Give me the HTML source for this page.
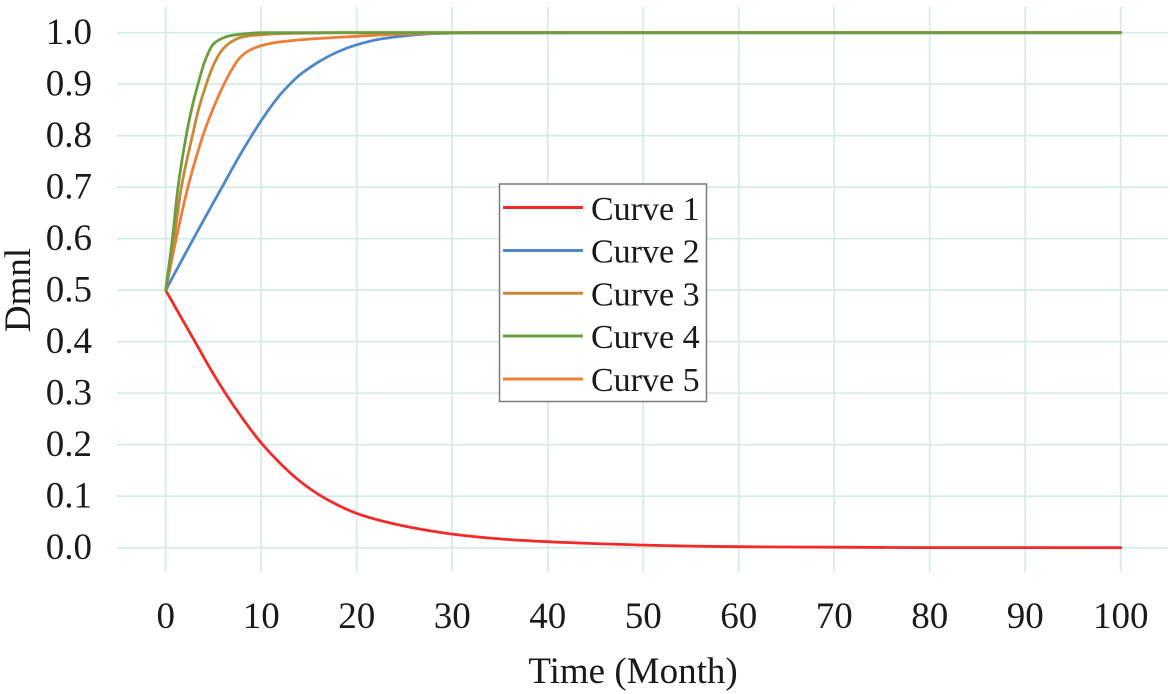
<!DOCTYPE html>
<html>
<head>
<meta charset="utf-8">
<style>
html,body{margin:0;padding:0;background:#fff;}
svg{display:block;}
text{font-family:"Liberation Serif",serif;fill:#1a1a1a;}
</style>
</head>
<body>
<svg id="chart" width="1170" height="694" viewBox="0 0 1170 694" xmlns="http://www.w3.org/2000/svg">
<rect width="1170" height="694" fill="#fff"/>
<!-- grid -->
<g stroke="#d3ebe5" stroke-width="1.6" fill="none">
<line x1="117" y1="32.7" x2="1168" y2="32.7"/>
<line x1="117" y1="84.2" x2="1168" y2="84.2"/>
<line x1="117" y1="135.7" x2="1168" y2="135.7"/>
<line x1="117" y1="187.2" x2="1168" y2="187.2"/>
<line x1="117" y1="238.7" x2="1168" y2="238.7"/>
<line x1="117" y1="290.2" x2="1168" y2="290.2"/>
<line x1="117" y1="341.7" x2="1168" y2="341.7"/>
<line x1="117" y1="393.2" x2="1168" y2="393.2"/>
<line x1="117" y1="444.7" x2="1168" y2="444.7"/>
<line x1="117" y1="496.2" x2="1168" y2="496.2"/>
<line x1="117" y1="547.7" x2="1168" y2="547.7"/>
<line x1="165.7" y1="7" x2="165.7" y2="572"/>
<line x1="261.2" y1="7" x2="261.2" y2="572"/>
<line x1="356.7" y1="7" x2="356.7" y2="572"/>
<line x1="452.2" y1="7" x2="452.2" y2="572"/>
<line x1="547.7" y1="7" x2="547.7" y2="572"/>
<line x1="643.2" y1="7" x2="643.2" y2="572"/>
<line x1="738.7" y1="7" x2="738.7" y2="572"/>
<line x1="834.2" y1="7" x2="834.2" y2="572"/>
<line x1="929.7" y1="7" x2="929.7" y2="572"/>
<line x1="1025.2" y1="7" x2="1025.2" y2="572"/>
<line x1="1120.7" y1="7" x2="1120.7" y2="572"/>
</g>
<!-- y tick labels -->
<g font-size="37" text-anchor="end">
<text x="92" y="44.2">1.0</text>
<text x="92" y="95.7">0.9</text>
<text x="92" y="147.2">0.8</text>
<text x="92" y="198.7">0.7</text>
<text x="92" y="250.2">0.6</text>
<text x="92" y="301.7">0.5</text>
<text x="92" y="353.2">0.4</text>
<text x="92" y="404.7">0.3</text>
<text x="92" y="456.2">0.2</text>
<text x="92" y="507.7">0.1</text>
<text x="92" y="559.2">0.0</text>
</g>
<!-- x tick labels -->
<g font-size="37" text-anchor="middle">
<text x="165.7" y="628">0</text>
<text x="261.2" y="628">10</text>
<text x="356.7" y="628">20</text>
<text x="452.2" y="628">30</text>
<text x="547.7" y="628">40</text>
<text x="643.2" y="628">50</text>
<text x="738.7" y="628">60</text>
<text x="834.2" y="628">70</text>
<text x="929.7" y="628">80</text>
<text x="1025.2" y="628">90</text>
<text x="1120.7" y="628">100</text>
</g>
<text x="633" y="683" font-size="37" text-anchor="middle">Time (Month)</text>
<text transform="translate(30,290) rotate(-90)" font-size="37" text-anchor="middle">Dmnl</text>

<!-- curves -->
<g fill="none" stroke-width="2.8" stroke-linejoin="round" stroke-linecap="round">
<!-- Curve 1 red -->
<polyline class="s" stroke="#f22a2a" points="165.7,290.2 180.0,315.4 195.0,341.7 209.6,367.5 224.9,392.5 242.1,417.8 260.0,441.5 280.3,463.5 299.4,480.8 318.5,494.4 337.6,505.0 356.7,513.4 380.6,520.6 404.5,526.1 428.3,530.5 452.2,534.1 500.0,538.9 547.7,541.7 595.5,543.6 643.2,545.1 690.9,546.1 738.7,546.7 834.2,547.2 929.7,547.6 1120.7,547.7"/>
<!-- Curve 2 blue -->
<polyline class="s" stroke="#4f88c8" points="165.7,290.2 193.4,238.7 222.0,187.2 240.0,155.0 251.6,135.7 261.2,120.6 270.8,106.8 280.3,94.5 289.9,84.2 299.4,75.2 308.9,68.3 318.5,62.0 337.6,51.9 356.7,44.8 380.6,39.0 404.5,35.8 433.1,33.6 470.0,32.8 1120.7,32.7"/>
<!-- Curve 5 orange -->
<polyline class="s" stroke="#ee7d35" points="165.7,290.2 176.2,238.7 187.9,187.2 202.9,135.7 212.5,110.0 224.0,84.2 231.6,69.8 239.7,57.9 249.7,50.2 259.7,46.1 272.7,43.0 299.4,39.9 328.0,37.9 356.7,36.3 394.9,34.2 433.1,33.2 471.3,32.7 1120.7,32.7"/>
<!-- Curve 3 brown -->
<polyline class="s" stroke="#c68a36" points="165.7,290.2 174.0,238.7 181.4,187.2 192.4,135.7 199.1,107.4 206.3,84.2 213.5,65.1 221.1,51.2 229.7,43.0 239.2,37.9 249.0,35.8 261.2,34.8 280,33.6 299.4,33.2 337.6,32.7 1120.7,32.7"/>
<!-- Curve 4 green -->
<polyline class="s" stroke="#6c9e40" points="165.7,290.2 172.4,238.7 178.0,187.2 186.2,135.7 192.0,107.4 198.0,84.2 204.9,61.0 213.0,44.5 221.1,38.9 229.7,35.8 245.9,33.7 261.2,32.7 1120.7,32.7"/>
</g>

<!-- legend -->
<rect x="499.5" y="184" width="207" height="217.5" fill="#fff" stroke="#7a7a7a" stroke-width="1.5"/>
<g stroke-width="3">
<line x1="503" y1="207.5" x2="583" y2="207.5" stroke="#f22a2a"/>
<line x1="503" y1="250.5" x2="583" y2="250.5" stroke="#4f88c8"/>
<line x1="503" y1="293.3" x2="583" y2="293.3" stroke="#c68a36"/>
<line x1="503" y1="336" x2="583" y2="336" stroke="#6c9e40"/>
<line x1="503" y1="379" x2="583" y2="379" stroke="#ee7d35"/>
</g>
<g font-size="34">
<text x="591" y="220">Curve 1</text>
<text x="591" y="262.5">Curve 2</text>
<text x="591" y="305.3">Curve 3</text>
<text x="591" y="348">Curve 4</text>
<text x="591" y="391">Curve 5</text>
</g>
</svg>
<script>
(function(){
  var ns="http://www.w3.org/2000/svg";
  var pls=document.querySelectorAll('polyline.s');
  for(var k=0;k<pls.length;k++){
    var pl=pls[k];
    var raw=pl.getAttribute('points').trim().split(/\s+/);
    var x=[],y=[];
    for(var i=0;i<raw.length;i++){var p=raw[i].split(',');x.push(+p[0]);y.push(+p[1]);}
    var n=x.length,h=[],d=[],m=[];
    for(i=0;i<n-1;i++){h[i]=x[i+1]-x[i];d[i]=(y[i+1]-y[i])/h[i];}
    m[0]=d[0];m[n-1]=d[n-2];
    for(i=1;i<n-1;i++){
      if(d[i-1]*d[i]<=0){m[i]=0;}
      else{var w1=2*h[i]+h[i-1],w2=h[i]+2*h[i-1];m[i]=(w1+w2)/(w1/d[i-1]+w2/d[i]);}
    }
    var s='M'+x[0].toFixed(2)+','+y[0].toFixed(2);
    for(i=0;i<n-1;i++){
      var c1x=x[i]+h[i]/3,c1y=y[i]+m[i]*h[i]/3,c2x=x[i+1]-h[i]/3,c2y=y[i+1]-m[i+1]*h[i]/3;
      s+=' C'+c1x.toFixed(2)+','+c1y.toFixed(2)+' '+c2x.toFixed(2)+','+c2y.toFixed(2)+' '+x[i+1].toFixed(2)+','+y[i+1].toFixed(2);
    }
    var path=document.createElementNS(ns,'path');
    path.setAttribute('d',s);
    path.setAttribute('stroke',pl.getAttribute('stroke'));
    pl.parentNode.replaceChild(path,pl);
  }
})();
</script>
</body>
</html>
